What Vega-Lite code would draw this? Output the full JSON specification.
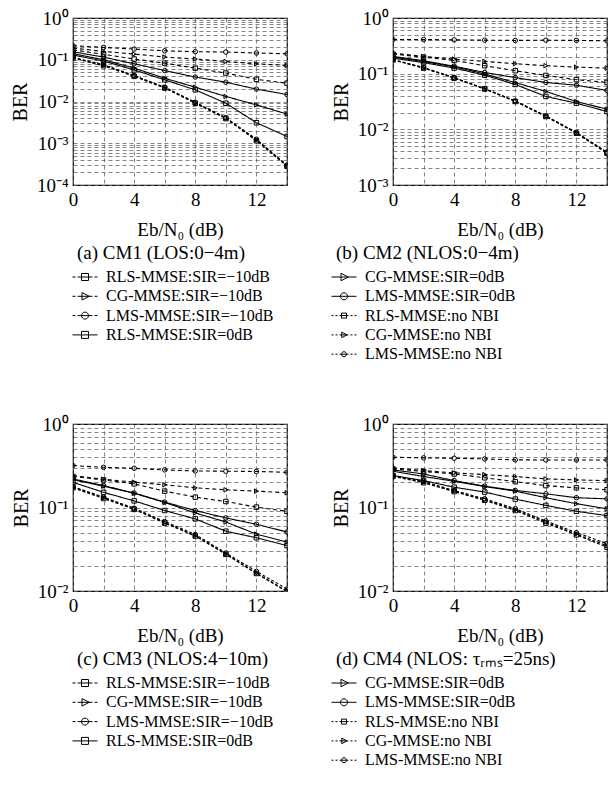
{
"$schema": "https://vega.github.io/schema/vega-lite/v6.json",
"padding": {"left": 9, "top": 8, "right": 0, "bottom": 0},
"config": {
 "font": "Liberation Serif",
 "view": {"stroke": "black", "strokeWidth": 1.2},
 "axis": {"labelFont": "Liberation Serif", "labelFontSize": 19, "labelColor": "black", "titleFont": "Liberation Serif", "titleFontSize": 19, "titleFontWeight": "normal", "titleColor": "black", "ticks": false, "domain": false, "grid": true, "gridColor": "#666", "gridDash": [4, 3], "gridWidth": 0.8, "labelFlush": false, "labelOverlap": false, "labelPadding": 5},
 "axisY": {"titleFontSize": 20, "titlePadding": 6},
 "axisX": {"titlePadding": 11},
 "legend": {"labelFont": "Liberation Serif", "labelFontSize": 16, "labelColor": "black", "titleFont": "Liberation Serif", "titleFontSize": 19, "titleFontWeight": "normal", "titleColor": "black", "labelLimit": 400, "titleLimit": 400, "symbolStrokeWidth": 1, "symbolStrokeColor": "black", "symbolFillColor": "transparent", "symbolSize": 100, "symbolOpacity": 1, "labelOffset": 13, "rowPadding": 3.3, "titlePadding": 6, "titleAnchor": "start", "orient": "none", "direction": "vertical"}
},
"datasets": {"d": [
{"p":"a","s":"RLS-MMSE:SIR=−10dB","x":0,"y":0.172},{"p":"a","s":"RLS-MMSE:SIR=−10dB","x":2,"y":0.135},{"p":"a","s":"RLS-MMSE:SIR=−10dB","x":4,"y":0.104},{"p":"a","s":"RLS-MMSE:SIR=−10dB","x":6,"y":0.083},{"p":"a","s":"RLS-MMSE:SIR=−10dB","x":8,"y":0.063},{"p":"a","s":"RLS-MMSE:SIR=−10dB","x":10,"y":0.048},{"p":"a","s":"RLS-MMSE:SIR=−10dB","x":12,"y":0.034},{"p":"a","s":"RLS-MMSE:SIR=−10dB","x":14,"y":0.0275},
{"p":"a","s":"CG-MMSE:SIR=−10dB","x":0,"y":0.19},{"p":"a","s":"CG-MMSE:SIR=−10dB","x":2,"y":0.158},{"p":"a","s":"CG-MMSE:SIR=−10dB","x":4,"y":0.137},{"p":"a","s":"CG-MMSE:SIR=−10dB","x":6,"y":0.116},{"p":"a","s":"CG-MMSE:SIR=−10dB","x":8,"y":0.104},{"p":"a","s":"CG-MMSE:SIR=−10dB","x":10,"y":0.091},{"p":"a","s":"CG-MMSE:SIR=−10dB","x":12,"y":0.08},{"p":"a","s":"CG-MMSE:SIR=−10dB","x":14,"y":0.073},
{"p":"a","s":"LMS-MMSE:SIR=−10dB","x":0,"y":0.217},{"p":"a","s":"LMS-MMSE:SIR=−10dB","x":2,"y":0.198},{"p":"a","s":"LMS-MMSE:SIR=−10dB","x":4,"y":0.18},{"p":"a","s":"LMS-MMSE:SIR=−10dB","x":6,"y":0.164},{"p":"a","s":"LMS-MMSE:SIR=−10dB","x":8,"y":0.156},{"p":"a","s":"LMS-MMSE:SIR=−10dB","x":10,"y":0.153},{"p":"a","s":"LMS-MMSE:SIR=−10dB","x":12,"y":0.145},{"p":"a","s":"LMS-MMSE:SIR=−10dB","x":14,"y":0.139},
{"p":"a","s":"RLS-MMSE:SIR=0dB","x":0,"y":0.13},{"p":"a","s":"RLS-MMSE:SIR=0dB","x":2,"y":0.093},{"p":"a","s":"RLS-MMSE:SIR=0dB","x":4,"y":0.057},{"p":"a","s":"RLS-MMSE:SIR=0dB","x":6,"y":0.033},{"p":"a","s":"RLS-MMSE:SIR=0dB","x":8,"y":0.019},{"p":"a","s":"RLS-MMSE:SIR=0dB","x":10,"y":0.0091},{"p":"a","s":"RLS-MMSE:SIR=0dB","x":12,"y":0.0031},{"p":"a","s":"RLS-MMSE:SIR=0dB","x":14,"y":0.00145},
{"p":"a","s":"CG-MMSE:SIR=0dB","x":0,"y":0.14},{"p":"a","s":"CG-MMSE:SIR=0dB","x":2,"y":0.1},{"p":"a","s":"CG-MMSE:SIR=0dB","x":4,"y":0.063},{"p":"a","s":"CG-MMSE:SIR=0dB","x":6,"y":0.036},{"p":"a","s":"CG-MMSE:SIR=0dB","x":8,"y":0.022},{"p":"a","s":"CG-MMSE:SIR=0dB","x":10,"y":0.0132},{"p":"a","s":"CG-MMSE:SIR=0dB","x":12,"y":0.0083},{"p":"a","s":"CG-MMSE:SIR=0dB","x":14,"y":0.005},
{"p":"a","s":"LMS-MMSE:SIR=0dB","x":0,"y":0.155},{"p":"a","s":"LMS-MMSE:SIR=0dB","x":2,"y":0.116},{"p":"a","s":"LMS-MMSE:SIR=0dB","x":4,"y":0.08},{"p":"a","s":"LMS-MMSE:SIR=0dB","x":6,"y":0.055},{"p":"a","s":"LMS-MMSE:SIR=0dB","x":8,"y":0.0385},{"p":"a","s":"LMS-MMSE:SIR=0dB","x":10,"y":0.029},{"p":"a","s":"LMS-MMSE:SIR=0dB","x":12,"y":0.0198},{"p":"a","s":"LMS-MMSE:SIR=0dB","x":14,"y":0.0147},
{"p":"a","s":"RLS-MMSE:no NBI","x":0,"y":0.11},{"p":"a","s":"RLS-MMSE:no NBI","x":2,"y":0.072},{"p":"a","s":"RLS-MMSE:no NBI","x":4,"y":0.04},{"p":"a","s":"RLS-MMSE:no NBI","x":6,"y":0.021},{"p":"a","s":"RLS-MMSE:no NBI","x":8,"y":0.0091},{"p":"a","s":"RLS-MMSE:no NBI","x":10,"y":0.0039},{"p":"a","s":"RLS-MMSE:no NBI","x":12,"y":0.00115},{"p":"a","s":"RLS-MMSE:no NBI","x":14,"y":0.00028},
{"p":"a","s":"CG-MMSE:no NBI","x":0,"y":0.112},{"p":"a","s":"CG-MMSE:no NBI","x":2,"y":0.074},{"p":"a","s":"CG-MMSE:no NBI","x":4,"y":0.041},{"p":"a","s":"CG-MMSE:no NBI","x":6,"y":0.0215},{"p":"a","s":"CG-MMSE:no NBI","x":8,"y":0.0093},{"p":"a","s":"CG-MMSE:no NBI","x":10,"y":0.004},{"p":"a","s":"CG-MMSE:no NBI","x":12,"y":0.0012},{"p":"a","s":"CG-MMSE:no NBI","x":14,"y":0.00029},
{"p":"a","s":"LMS-MMSE:no NBI","x":0,"y":0.114},{"p":"a","s":"LMS-MMSE:no NBI","x":2,"y":0.076},{"p":"a","s":"LMS-MMSE:no NBI","x":4,"y":0.042},{"p":"a","s":"LMS-MMSE:no NBI","x":6,"y":0.022},{"p":"a","s":"LMS-MMSE:no NBI","x":8,"y":0.0096},{"p":"a","s":"LMS-MMSE:no NBI","x":10,"y":0.0041},{"p":"a","s":"LMS-MMSE:no NBI","x":12,"y":0.00125},{"p":"a","s":"LMS-MMSE:no NBI","x":14,"y":0.0003},
{"p":"b","s":"RLS-MMSE:SIR=−10dB","x":0,"y":0.225},{"p":"b","s":"RLS-MMSE:SIR=−10dB","x":2,"y":0.198},{"p":"b","s":"RLS-MMSE:SIR=−10dB","x":4,"y":0.173},{"p":"b","s":"RLS-MMSE:SIR=−10dB","x":6,"y":0.139},{"p":"b","s":"RLS-MMSE:SIR=−10dB","x":8,"y":0.113},{"p":"b","s":"RLS-MMSE:SIR=−10dB","x":10,"y":0.093},{"p":"b","s":"RLS-MMSE:SIR=−10dB","x":12,"y":0.078},{"p":"b","s":"RLS-MMSE:SIR=−10dB","x":14,"y":0.0695},
{"p":"b","s":"CG-MMSE:SIR=−10dB","x":0,"y":0.234},{"p":"b","s":"CG-MMSE:SIR=−10dB","x":2,"y":0.204},{"p":"b","s":"CG-MMSE:SIR=−10dB","x":4,"y":0.183},{"p":"b","s":"CG-MMSE:SIR=−10dB","x":6,"y":0.166},{"p":"b","s":"CG-MMSE:SIR=−10dB","x":8,"y":0.151},{"p":"b","s":"CG-MMSE:SIR=−10dB","x":10,"y":0.139},{"p":"b","s":"CG-MMSE:SIR=−10dB","x":12,"y":0.131},{"p":"b","s":"CG-MMSE:SIR=−10dB","x":14,"y":0.126},
{"p":"b","s":"LMS-MMSE:SIR=−10dB","x":0,"y":0.41},{"p":"b","s":"LMS-MMSE:SIR=−10dB","x":2,"y":0.41},{"p":"b","s":"LMS-MMSE:SIR=−10dB","x":4,"y":0.405},{"p":"b","s":"LMS-MMSE:SIR=−10dB","x":6,"y":0.4},{"p":"b","s":"LMS-MMSE:SIR=−10dB","x":8,"y":0.395},{"p":"b","s":"LMS-MMSE:SIR=−10dB","x":10,"y":0.4},{"p":"b","s":"LMS-MMSE:SIR=−10dB","x":12,"y":0.395},{"p":"b","s":"LMS-MMSE:SIR=−10dB","x":14,"y":0.39},
{"p":"b","s":"RLS-MMSE:SIR=0dB","x":0,"y":0.19},{"p":"b","s":"RLS-MMSE:SIR=0dB","x":2,"y":0.158},{"p":"b","s":"RLS-MMSE:SIR=0dB","x":4,"y":0.126},{"p":"b","s":"RLS-MMSE:SIR=0dB","x":6,"y":0.094},{"p":"b","s":"RLS-MMSE:SIR=0dB","x":8,"y":0.064},{"p":"b","s":"RLS-MMSE:SIR=0dB","x":10,"y":0.039},{"p":"b","s":"RLS-MMSE:SIR=0dB","x":12,"y":0.0295},{"p":"b","s":"RLS-MMSE:SIR=0dB","x":14,"y":0.0209},
{"p":"b","s":"CG-MMSE:SIR=0dB","x":0,"y":0.198},{"p":"b","s":"CG-MMSE:SIR=0dB","x":2,"y":0.165},{"p":"b","s":"CG-MMSE:SIR=0dB","x":4,"y":0.133},{"p":"b","s":"CG-MMSE:SIR=0dB","x":6,"y":0.099},{"p":"b","s":"CG-MMSE:SIR=0dB","x":8,"y":0.069},{"p":"b","s":"CG-MMSE:SIR=0dB","x":10,"y":0.048},{"p":"b","s":"CG-MMSE:SIR=0dB","x":12,"y":0.0316},{"p":"b","s":"CG-MMSE:SIR=0dB","x":14,"y":0.023},
{"p":"b","s":"LMS-MMSE:SIR=0dB","x":0,"y":0.204},{"p":"b","s":"LMS-MMSE:SIR=0dB","x":2,"y":0.171},{"p":"b","s":"LMS-MMSE:SIR=0dB","x":4,"y":0.136},{"p":"b","s":"LMS-MMSE:SIR=0dB","x":6,"y":0.105},{"p":"b","s":"LMS-MMSE:SIR=0dB","x":8,"y":0.085},{"p":"b","s":"LMS-MMSE:SIR=0dB","x":10,"y":0.0695},{"p":"b","s":"LMS-MMSE:SIR=0dB","x":12,"y":0.062},{"p":"b","s":"LMS-MMSE:SIR=0dB","x":14,"y":0.05},
{"p":"b","s":"RLS-MMSE:no NBI","x":0,"y":0.176},{"p":"b","s":"RLS-MMSE:no NBI","x":2,"y":0.126},{"p":"b","s":"RLS-MMSE:no NBI","x":4,"y":0.083},{"p":"b","s":"RLS-MMSE:no NBI","x":6,"y":0.053},{"p":"b","s":"RLS-MMSE:no NBI","x":8,"y":0.0316},{"p":"b","s":"RLS-MMSE:no NBI","x":10,"y":0.017},{"p":"b","s":"RLS-MMSE:no NBI","x":12,"y":0.0085},{"p":"b","s":"RLS-MMSE:no NBI","x":14,"y":0.0037},
{"p":"b","s":"CG-MMSE:no NBI","x":0,"y":0.178},{"p":"b","s":"CG-MMSE:no NBI","x":2,"y":0.127},{"p":"b","s":"CG-MMSE:no NBI","x":4,"y":0.084},{"p":"b","s":"CG-MMSE:no NBI","x":6,"y":0.0535},{"p":"b","s":"CG-MMSE:no NBI","x":8,"y":0.032},{"p":"b","s":"CG-MMSE:no NBI","x":10,"y":0.0172},{"p":"b","s":"CG-MMSE:no NBI","x":12,"y":0.0087},{"p":"b","s":"CG-MMSE:no NBI","x":14,"y":0.0038},
{"p":"b","s":"LMS-MMSE:no NBI","x":0,"y":0.18},{"p":"b","s":"LMS-MMSE:no NBI","x":2,"y":0.129},{"p":"b","s":"LMS-MMSE:no NBI","x":4,"y":0.085},{"p":"b","s":"LMS-MMSE:no NBI","x":6,"y":0.054},{"p":"b","s":"LMS-MMSE:no NBI","x":8,"y":0.0324},{"p":"b","s":"LMS-MMSE:no NBI","x":10,"y":0.0175},{"p":"b","s":"LMS-MMSE:no NBI","x":12,"y":0.0088},{"p":"b","s":"LMS-MMSE:no NBI","x":14,"y":0.0039},
{"p":"c","s":"RLS-MMSE:SIR=−10dB","x":0,"y":0.235},{"p":"c","s":"RLS-MMSE:SIR=−10dB","x":2,"y":0.214},{"p":"c","s":"RLS-MMSE:SIR=−10dB","x":4,"y":0.192},{"p":"c","s":"RLS-MMSE:SIR=−10dB","x":6,"y":0.157},{"p":"c","s":"RLS-MMSE:SIR=−10dB","x":8,"y":0.133},{"p":"c","s":"RLS-MMSE:SIR=−10dB","x":10,"y":0.118},{"p":"c","s":"RLS-MMSE:SIR=−10dB","x":12,"y":0.101},{"p":"c","s":"RLS-MMSE:SIR=−10dB","x":14,"y":0.09},
{"p":"c","s":"CG-MMSE:SIR=−10dB","x":0,"y":0.241},{"p":"c","s":"CG-MMSE:SIR=−10dB","x":2,"y":0.218},{"p":"c","s":"CG-MMSE:SIR=−10dB","x":4,"y":0.201},{"p":"c","s":"CG-MMSE:SIR=−10dB","x":6,"y":0.187},{"p":"c","s":"CG-MMSE:SIR=−10dB","x":8,"y":0.172},{"p":"c","s":"CG-MMSE:SIR=−10dB","x":10,"y":0.163},{"p":"c","s":"CG-MMSE:SIR=−10dB","x":12,"y":0.157},{"p":"c","s":"CG-MMSE:SIR=−10dB","x":14,"y":0.15},
{"p":"c","s":"LMS-MMSE:SIR=−10dB","x":0,"y":0.318},{"p":"c","s":"LMS-MMSE:SIR=−10dB","x":2,"y":0.303},{"p":"c","s":"LMS-MMSE:SIR=−10dB","x":4,"y":0.295},{"p":"c","s":"LMS-MMSE:SIR=−10dB","x":6,"y":0.282},{"p":"c","s":"LMS-MMSE:SIR=−10dB","x":8,"y":0.274},{"p":"c","s":"LMS-MMSE:SIR=−10dB","x":10,"y":0.272},{"p":"c","s":"LMS-MMSE:SIR=−10dB","x":12,"y":0.27},{"p":"c","s":"LMS-MMSE:SIR=−10dB","x":14,"y":0.264},
{"p":"c","s":"RLS-MMSE:SIR=0dB","x":0,"y":0.2},{"p":"c","s":"RLS-MMSE:SIR=0dB","x":2,"y":0.152},{"p":"c","s":"RLS-MMSE:SIR=0dB","x":4,"y":0.12},{"p":"c","s":"RLS-MMSE:SIR=0dB","x":6,"y":0.092},{"p":"c","s":"RLS-MMSE:SIR=0dB","x":8,"y":0.073},{"p":"c","s":"RLS-MMSE:SIR=0dB","x":10,"y":0.052},{"p":"c","s":"RLS-MMSE:SIR=0dB","x":12,"y":0.0434},{"p":"c","s":"RLS-MMSE:SIR=0dB","x":14,"y":0.035},
{"p":"c","s":"CG-MMSE:SIR=0dB","x":0,"y":0.215},{"p":"c","s":"CG-MMSE:SIR=0dB","x":2,"y":0.18},{"p":"c","s":"CG-MMSE:SIR=0dB","x":4,"y":0.148},{"p":"c","s":"CG-MMSE:SIR=0dB","x":6,"y":0.115},{"p":"c","s":"CG-MMSE:SIR=0dB","x":8,"y":0.086},{"p":"c","s":"CG-MMSE:SIR=0dB","x":10,"y":0.067},{"p":"c","s":"CG-MMSE:SIR=0dB","x":12,"y":0.048},{"p":"c","s":"CG-MMSE:SIR=0dB","x":14,"y":0.0385},
{"p":"c","s":"LMS-MMSE:SIR=0dB","x":0,"y":0.22},{"p":"c","s":"LMS-MMSE:SIR=0dB","x":2,"y":0.183},{"p":"c","s":"LMS-MMSE:SIR=0dB","x":4,"y":0.149},{"p":"c","s":"LMS-MMSE:SIR=0dB","x":6,"y":0.116},{"p":"c","s":"LMS-MMSE:SIR=0dB","x":8,"y":0.092},{"p":"c","s":"LMS-MMSE:SIR=0dB","x":10,"y":0.075},{"p":"c","s":"LMS-MMSE:SIR=0dB","x":12,"y":0.063},{"p":"c","s":"LMS-MMSE:SIR=0dB","x":14,"y":0.0509},
{"p":"c","s":"RLS-MMSE:no NBI","x":0,"y":0.172},{"p":"c","s":"RLS-MMSE:no NBI","x":2,"y":0.128},{"p":"c","s":"RLS-MMSE:no NBI","x":4,"y":0.095},{"p":"c","s":"RLS-MMSE:no NBI","x":6,"y":0.065},{"p":"c","s":"RLS-MMSE:no NBI","x":8,"y":0.0455},{"p":"c","s":"RLS-MMSE:no NBI","x":10,"y":0.0275},{"p":"c","s":"RLS-MMSE:no NBI","x":12,"y":0.0162},{"p":"c","s":"RLS-MMSE:no NBI","x":14,"y":0.0098},
{"p":"c","s":"CG-MMSE:no NBI","x":0,"y":0.175},{"p":"c","s":"CG-MMSE:no NBI","x":2,"y":0.131},{"p":"c","s":"CG-MMSE:no NBI","x":4,"y":0.097},{"p":"c","s":"CG-MMSE:no NBI","x":6,"y":0.066},{"p":"c","s":"CG-MMSE:no NBI","x":8,"y":0.046},{"p":"c","s":"CG-MMSE:no NBI","x":10,"y":0.0277},{"p":"c","s":"CG-MMSE:no NBI","x":12,"y":0.0163},{"p":"c","s":"CG-MMSE:no NBI","x":14,"y":0.01},
{"p":"c","s":"LMS-MMSE:no NBI","x":0,"y":0.178},{"p":"c","s":"LMS-MMSE:no NBI","x":2,"y":0.133},{"p":"c","s":"LMS-MMSE:no NBI","x":4,"y":0.098},{"p":"c","s":"LMS-MMSE:no NBI","x":6,"y":0.068},{"p":"c","s":"LMS-MMSE:no NBI","x":8,"y":0.0475},{"p":"c","s":"LMS-MMSE:no NBI","x":10,"y":0.0285},{"p":"c","s":"LMS-MMSE:no NBI","x":12,"y":0.0172},{"p":"c","s":"LMS-MMSE:no NBI","x":14,"y":0.0106},
{"p":"d","s":"RLS-MMSE:SIR=−10dB","x":0,"y":0.29},{"p":"d","s":"RLS-MMSE:SIR=−10dB","x":2,"y":0.27},{"p":"d","s":"RLS-MMSE:SIR=−10dB","x":4,"y":0.252},{"p":"d","s":"RLS-MMSE:SIR=−10dB","x":6,"y":0.227},{"p":"d","s":"RLS-MMSE:SIR=−10dB","x":8,"y":0.204},{"p":"d","s":"RLS-MMSE:SIR=−10dB","x":10,"y":0.183},{"p":"d","s":"RLS-MMSE:SIR=−10dB","x":12,"y":0.172},{"p":"d","s":"RLS-MMSE:SIR=−10dB","x":14,"y":0.163},
{"p":"d","s":"CG-MMSE:SIR=−10dB","x":0,"y":0.298},{"p":"d","s":"CG-MMSE:SIR=−10dB","x":2,"y":0.277},{"p":"d","s":"CG-MMSE:SIR=−10dB","x":4,"y":0.26},{"p":"d","s":"CG-MMSE:SIR=−10dB","x":6,"y":0.248},{"p":"d","s":"CG-MMSE:SIR=−10dB","x":8,"y":0.235},{"p":"d","s":"CG-MMSE:SIR=−10dB","x":10,"y":0.22},{"p":"d","s":"CG-MMSE:SIR=−10dB","x":12,"y":0.214},{"p":"d","s":"CG-MMSE:SIR=−10dB","x":14,"y":0.21},
{"p":"d","s":"LMS-MMSE:SIR=−10dB","x":0,"y":0.4},{"p":"d","s":"LMS-MMSE:SIR=−10dB","x":2,"y":0.393},{"p":"d","s":"LMS-MMSE:SIR=−10dB","x":4,"y":0.389},{"p":"d","s":"LMS-MMSE:SIR=−10dB","x":6,"y":0.382},{"p":"d","s":"LMS-MMSE:SIR=−10dB","x":8,"y":0.372},{"p":"d","s":"LMS-MMSE:SIR=−10dB","x":10,"y":0.371},{"p":"d","s":"LMS-MMSE:SIR=−10dB","x":12,"y":0.371},{"p":"d","s":"LMS-MMSE:SIR=−10dB","x":14,"y":0.371},
{"p":"d","s":"RLS-MMSE:SIR=0dB","x":0,"y":0.241},{"p":"d","s":"RLS-MMSE:SIR=0dB","x":2,"y":0.21},{"p":"d","s":"RLS-MMSE:SIR=0dB","x":4,"y":0.175},{"p":"d","s":"RLS-MMSE:SIR=0dB","x":6,"y":0.153},{"p":"d","s":"RLS-MMSE:SIR=0dB","x":8,"y":0.126},{"p":"d","s":"RLS-MMSE:SIR=0dB","x":10,"y":0.106},{"p":"d","s":"RLS-MMSE:SIR=0dB","x":12,"y":0.09},{"p":"d","s":"RLS-MMSE:SIR=0dB","x":14,"y":0.08},
{"p":"d","s":"CG-MMSE:SIR=0dB","x":0,"y":0.272},{"p":"d","s":"CG-MMSE:SIR=0dB","x":2,"y":0.235},{"p":"d","s":"CG-MMSE:SIR=0dB","x":4,"y":0.206},{"p":"d","s":"CG-MMSE:SIR=0dB","x":6,"y":0.178},{"p":"d","s":"CG-MMSE:SIR=0dB","x":8,"y":0.157},{"p":"d","s":"CG-MMSE:SIR=0dB","x":10,"y":0.131},{"p":"d","s":"CG-MMSE:SIR=0dB","x":12,"y":0.111},{"p":"d","s":"CG-MMSE:SIR=0dB","x":14,"y":0.0965},
{"p":"d","s":"LMS-MMSE:SIR=0dB","x":0,"y":0.282},{"p":"d","s":"LMS-MMSE:SIR=0dB","x":2,"y":0.252},{"p":"d","s":"LMS-MMSE:SIR=0dB","x":4,"y":0.21},{"p":"d","s":"LMS-MMSE:SIR=0dB","x":6,"y":0.18},{"p":"d","s":"LMS-MMSE:SIR=0dB","x":8,"y":0.16},{"p":"d","s":"LMS-MMSE:SIR=0dB","x":10,"y":0.146},{"p":"d","s":"LMS-MMSE:SIR=0dB","x":12,"y":0.131},{"p":"d","s":"LMS-MMSE:SIR=0dB","x":14,"y":0.127},
{"p":"d","s":"RLS-MMSE:no NBI","x":0,"y":0.236},{"p":"d","s":"RLS-MMSE:no NBI","x":2,"y":0.198},{"p":"d","s":"RLS-MMSE:no NBI","x":4,"y":0.155},{"p":"d","s":"RLS-MMSE:no NBI","x":6,"y":0.122},{"p":"d","s":"RLS-MMSE:no NBI","x":8,"y":0.092},{"p":"d","s":"RLS-MMSE:no NBI","x":10,"y":0.065},{"p":"d","s":"RLS-MMSE:no NBI","x":12,"y":0.047},{"p":"d","s":"RLS-MMSE:no NBI","x":14,"y":0.0335},
{"p":"d","s":"CG-MMSE:no NBI","x":0,"y":0.239},{"p":"d","s":"CG-MMSE:no NBI","x":2,"y":0.2},{"p":"d","s":"CG-MMSE:no NBI","x":4,"y":0.157},{"p":"d","s":"CG-MMSE:no NBI","x":6,"y":0.124},{"p":"d","s":"CG-MMSE:no NBI","x":8,"y":0.094},{"p":"d","s":"CG-MMSE:no NBI","x":10,"y":0.067},{"p":"d","s":"CG-MMSE:no NBI","x":12,"y":0.048},{"p":"d","s":"CG-MMSE:no NBI","x":14,"y":0.035},
{"p":"d","s":"LMS-MMSE:no NBI","x":0,"y":0.244},{"p":"d","s":"LMS-MMSE:no NBI","x":2,"y":0.205},{"p":"d","s":"LMS-MMSE:no NBI","x":4,"y":0.16},{"p":"d","s":"LMS-MMSE:no NBI","x":6,"y":0.127},{"p":"d","s":"LMS-MMSE:no NBI","x":8,"y":0.097},{"p":"d","s":"LMS-MMSE:no NBI","x":10,"y":0.069},{"p":"d","s":"LMS-MMSE:no NBI","x":12,"y":0.05},{"p":"d","s":"LMS-MMSE:no NBI","x":14,"y":0.037}
]},
"data": {"name": "d"},
"columns": 2,
"spacing": {"row": 50, "column": 42},
"resolve": {"legend": {"shape": "independent"}, "scale": {"shape": "independent"}},
"concat": [
{
 "width": 214, "height": 167,
 "transform": [{"filter": "datum.p === 'a'"}],
 "resolve": {"scale": {"shape": "independent"}},
 "encoding": {
  "x": {"field": "x", "type": "quantitative", "scale": {"domain": [0, 14], "nice": false}, "axis": {"values": [0,2,4,6,8,10,12,14], "labelExpr": "datum.value % 4 === 0 ? datum.label : ''", "title": "Eb/N₀ (dB)"}},
  "y": {"field": "y", "type": "quantitative", "scale": {"type": "log", "domain": [0.0001, 1], "nice": false}, "axis": {"title": "BER", "values": [0.0001,0.0002,0.0003,0.0004,0.0005,0.0006,0.0007,0.0008,0.0009,0.001,0.002,0.003,0.004,0.005,0.006,0.007,0.008,0.009,0.01,0.02,0.03,0.04,0.05,0.06,0.07,0.08,0.09,0.1,0.2,0.3,0.4,0.5,0.6,0.7,0.8,0.9,1], "labelExpr": "datum.value === 1 ? '10⁰' : datum.value === 0.1 ? '10⁻¹' : datum.value === 0.01 ? '10⁻²' : datum.value === 0.001 ? '10⁻³' : datum.value === 0.0001 ? '10⁻⁴' : ''"}}
 },
 "layer": [
  {"mark": {"type": "line", "color": "black", "strokeWidth": 1.1, "clip": true}, "encoding": {"strokeDash": {"field": "s", "type": "nominal", "scale": {"domain": ["RLS-MMSE:SIR=−10dB","CG-MMSE:SIR=−10dB","LMS-MMSE:SIR=−10dB","RLS-MMSE:SIR=0dB","CG-MMSE:SIR=0dB","LMS-MMSE:SIR=0dB","RLS-MMSE:no NBI","CG-MMSE:no NBI","LMS-MMSE:no NBI"], "range": [[4,3],[4,3],[4,3],[1,0],[1,0],[1,0],[3,2],[3,2],[3,2]]}, "legend": null}}},
  {"mark": {"type": "point", "filled": false, "color": "black", "size": 20, "strokeWidth": 1, "opacity": 1, "clip": true}, "encoding": {"shape": {"field": "s", "type": "nominal", "scale": {"domain": ["RLS-MMSE:SIR=−10dB","CG-MMSE:SIR=−10dB","LMS-MMSE:SIR=−10dB","RLS-MMSE:SIR=0dB","CG-MMSE:SIR=0dB","LMS-MMSE:SIR=0dB","RLS-MMSE:no NBI","CG-MMSE:no NBI","LMS-MMSE:no NBI"], "range": ["square","triangle-right","circle","square","triangle-right","circle","square","triangle-right","circle"]}, "legend": null}}},
  {"transform": [{"filter": "false"}], "mark": {"type": "point", "filled": false, "color": "black", "strokeWidth": 1}, "encoding": {"shape": {"field": "s", "type": "nominal", "scale": {"domain": ["RLS-MMSE:SIR=−10dB","CG-MMSE:SIR=−10dB","LMS-MMSE:SIR=−10dB","RLS-MMSE:SIR=0dB","CG-MMSE:SIR=0dB","LMS-MMSE:SIR=0dB","RLS-MMSE:no NBI","CG-MMSE:no NBI","LMS-MMSE:no NBI"], "range": ["M-2.5,0H-1.9M-1.5,0H1.5M1.9,0H2.5M-0.7,-0.7H0.7V0.7H-0.7Z","M-2.5,0H-1.9M-1.5,0H1.5M1.9,0H2.5M-0.6,-0.75L0.85,0L-0.6,0.75Z","M-2.5,0H-1.9M-1.5,0H1.5M1.9,0H2.5M-0.7,0A0.7,0.7 0 1,0 0.7,0A0.7,0.7 0 1,0 -0.7,0Z","M-2.5,0H2.5M-0.7,-0.7H0.7V0.7H-0.7Z","M-2.5,0H2.5M-0.6,-0.75L0.85,0L-0.6,0.75Z","M-2.5,0H2.5M-0.7,0A0.7,0.7 0 1,0 0.7,0A0.7,0.7 0 1,0 -0.7,0Z","M-2.5,0H-2.1M-1.7,0H-1.3M-0.9,0H0.9M1.3,0H1.7M2.1,0H2.5M-0.5,-0.5H0.5V0.5H-0.5Z","M-2.5,0H-2.1M-1.7,0H-1.3M-0.9,0H0.9M1.3,0H1.7M2.1,0H2.5M-0.45,-0.55L0.6,0L-0.45,0.55Z","M-2.5,0H-2.1M-1.7,0H-1.3M-0.9,0H0.9M1.3,0H1.7M2.1,0H2.5M-0.5,0A0.5,0.5 0 1,0 0.5,0A0.5,0.5 0 1,0 -0.5,0Z"]}, "legend": {"values": ["RLS-MMSE:SIR=−10dB","CG-MMSE:SIR=−10dB","LMS-MMSE:SIR=−10dB","RLS-MMSE:SIR=0dB"], "title": "(a) CM1 (LOS:0−4m)", "legendX": 4, "legendY": 226}}}}
 ]
},
{
 "width": 214, "height": 167,
 "transform": [{"filter": "datum.p === 'b'"}],
 "resolve": {"scale": {"shape": "independent"}},
 "encoding": {
  "x": {"field": "x", "type": "quantitative", "scale": {"domain": [0, 14], "nice": false}, "axis": {"values": [0,2,4,6,8,10,12,14], "labelExpr": "datum.value % 4 === 0 ? datum.label : ''", "title": "Eb/N₀ (dB)"}},
  "y": {"field": "y", "type": "quantitative", "scale": {"type": "log", "domain": [0.001, 1], "nice": false}, "axis": {"title": "BER", "values": [0.001,0.002,0.003,0.004,0.005,0.006,0.007,0.008,0.009,0.01,0.02,0.03,0.04,0.05,0.06,0.07,0.08,0.09,0.1,0.2,0.3,0.4,0.5,0.6,0.7,0.8,0.9,1], "labelExpr": "datum.value === 1 ? '10⁰' : datum.value === 0.1 ? '10⁻¹' : datum.value === 0.01 ? '10⁻²' : datum.value === 0.001 ? '10⁻³' : ''"}}
 },
 "layer": [
  {"mark": {"type": "line", "color": "black", "strokeWidth": 1.1, "clip": true}, "encoding": {"strokeDash": {"field": "s", "type": "nominal", "scale": {"domain": ["RLS-MMSE:SIR=−10dB","CG-MMSE:SIR=−10dB","LMS-MMSE:SIR=−10dB","RLS-MMSE:SIR=0dB","CG-MMSE:SIR=0dB","LMS-MMSE:SIR=0dB","RLS-MMSE:no NBI","CG-MMSE:no NBI","LMS-MMSE:no NBI"], "range": [[4,3],[4,3],[4,3],[1,0],[1,0],[1,0],[3,2],[3,2],[3,2]]}, "legend": null}}},
  {"mark": {"type": "point", "filled": false, "color": "black", "size": 20, "strokeWidth": 1, "opacity": 1, "clip": true}, "encoding": {"shape": {"field": "s", "type": "nominal", "scale": {"domain": ["RLS-MMSE:SIR=−10dB","CG-MMSE:SIR=−10dB","LMS-MMSE:SIR=−10dB","RLS-MMSE:SIR=0dB","CG-MMSE:SIR=0dB","LMS-MMSE:SIR=0dB","RLS-MMSE:no NBI","CG-MMSE:no NBI","LMS-MMSE:no NBI"], "range": ["square","triangle-right","circle","square","triangle-right","circle","square","triangle-right","circle"]}, "legend": null}}},
  {"transform": [{"filter": "false"}], "mark": {"type": "point", "filled": false, "color": "black", "strokeWidth": 1}, "encoding": {"shape": {"field": "s", "type": "nominal", "scale": {"domain": ["RLS-MMSE:SIR=−10dB","CG-MMSE:SIR=−10dB","LMS-MMSE:SIR=−10dB","RLS-MMSE:SIR=0dB","CG-MMSE:SIR=0dB","LMS-MMSE:SIR=0dB","RLS-MMSE:no NBI","CG-MMSE:no NBI","LMS-MMSE:no NBI"], "range": ["M-2.5,0H-1.9M-1.5,0H1.5M1.9,0H2.5M-0.7,-0.7H0.7V0.7H-0.7Z","M-2.5,0H-1.9M-1.5,0H1.5M1.9,0H2.5M-0.6,-0.75L0.85,0L-0.6,0.75Z","M-2.5,0H-1.9M-1.5,0H1.5M1.9,0H2.5M-0.7,0A0.7,0.7 0 1,0 0.7,0A0.7,0.7 0 1,0 -0.7,0Z","M-2.5,0H2.5M-0.7,-0.7H0.7V0.7H-0.7Z","M-2.5,0H2.5M-0.6,-0.75L0.85,0L-0.6,0.75Z","M-2.5,0H2.5M-0.7,0A0.7,0.7 0 1,0 0.7,0A0.7,0.7 0 1,0 -0.7,0Z","M-2.5,0H-2.1M-1.7,0H-1.3M-0.9,0H0.9M1.3,0H1.7M2.1,0H2.5M-0.5,-0.5H0.5V0.5H-0.5Z","M-2.5,0H-2.1M-1.7,0H-1.3M-0.9,0H0.9M1.3,0H1.7M2.1,0H2.5M-0.45,-0.55L0.6,0L-0.45,0.55Z","M-2.5,0H-2.1M-1.7,0H-1.3M-0.9,0H0.9M1.3,0H1.7M2.1,0H2.5M-0.5,0A0.5,0.5 0 1,0 0.5,0A0.5,0.5 0 1,0 -0.5,0Z"]}, "legend": {"values": ["CG-MMSE:SIR=0dB","LMS-MMSE:SIR=0dB","RLS-MMSE:no NBI","CG-MMSE:no NBI","LMS-MMSE:no NBI"], "title": "(b) CM2 (NLOS:0−4m)", "legendX": -57, "legendY": 226}}}}
 ]
},
{
 "width": 214, "height": 167,
 "transform": [{"filter": "datum.p === 'c'"}],
 "resolve": {"scale": {"shape": "independent"}},
 "encoding": {
  "x": {"field": "x", "type": "quantitative", "scale": {"domain": [0, 14], "nice": false}, "axis": {"values": [0,2,4,6,8,10,12,14], "labelExpr": "datum.value % 4 === 0 ? datum.label : ''", "title": "Eb/N₀ (dB)"}},
  "y": {"field": "y", "type": "quantitative", "scale": {"type": "log", "domain": [0.01, 1], "nice": false}, "axis": {"title": "BER", "values": [0.01,0.02,0.03,0.04,0.05,0.06,0.07,0.08,0.09,0.1,0.2,0.3,0.4,0.5,0.6,0.7,0.8,0.9,1], "labelExpr": "datum.value === 1 ? '10⁰' : datum.value === 0.1 ? '10⁻¹' : datum.value === 0.01 ? '10⁻²' : ''"}}
 },
 "layer": [
  {"mark": {"type": "line", "color": "black", "strokeWidth": 1.1, "clip": true}, "encoding": {"strokeDash": {"field": "s", "type": "nominal", "scale": {"domain": ["RLS-MMSE:SIR=−10dB","CG-MMSE:SIR=−10dB","LMS-MMSE:SIR=−10dB","RLS-MMSE:SIR=0dB","CG-MMSE:SIR=0dB","LMS-MMSE:SIR=0dB","RLS-MMSE:no NBI","CG-MMSE:no NBI","LMS-MMSE:no NBI"], "range": [[4,3],[4,3],[4,3],[1,0],[1,0],[1,0],[3,2],[3,2],[3,2]]}, "legend": null}}},
  {"mark": {"type": "point", "filled": false, "color": "black", "size": 20, "strokeWidth": 1, "opacity": 1, "clip": true}, "encoding": {"shape": {"field": "s", "type": "nominal", "scale": {"domain": ["RLS-MMSE:SIR=−10dB","CG-MMSE:SIR=−10dB","LMS-MMSE:SIR=−10dB","RLS-MMSE:SIR=0dB","CG-MMSE:SIR=0dB","LMS-MMSE:SIR=0dB","RLS-MMSE:no NBI","CG-MMSE:no NBI","LMS-MMSE:no NBI"], "range": ["square","triangle-right","circle","square","triangle-right","circle","square","triangle-right","circle"]}, "legend": null}}},
  {"transform": [{"filter": "false"}], "mark": {"type": "point", "filled": false, "color": "black", "strokeWidth": 1}, "encoding": {"shape": {"field": "s", "type": "nominal", "scale": {"domain": ["RLS-MMSE:SIR=−10dB","CG-MMSE:SIR=−10dB","LMS-MMSE:SIR=−10dB","RLS-MMSE:SIR=0dB","CG-MMSE:SIR=0dB","LMS-MMSE:SIR=0dB","RLS-MMSE:no NBI","CG-MMSE:no NBI","LMS-MMSE:no NBI"], "range": ["M-2.5,0H-1.9M-1.5,0H1.5M1.9,0H2.5M-0.7,-0.7H0.7V0.7H-0.7Z","M-2.5,0H-1.9M-1.5,0H1.5M1.9,0H2.5M-0.6,-0.75L0.85,0L-0.6,0.75Z","M-2.5,0H-1.9M-1.5,0H1.5M1.9,0H2.5M-0.7,0A0.7,0.7 0 1,0 0.7,0A0.7,0.7 0 1,0 -0.7,0Z","M-2.5,0H2.5M-0.7,-0.7H0.7V0.7H-0.7Z","M-2.5,0H2.5M-0.6,-0.75L0.85,0L-0.6,0.75Z","M-2.5,0H2.5M-0.7,0A0.7,0.7 0 1,0 0.7,0A0.7,0.7 0 1,0 -0.7,0Z","M-2.5,0H-2.1M-1.7,0H-1.3M-0.9,0H0.9M1.3,0H1.7M2.1,0H2.5M-0.5,-0.5H0.5V0.5H-0.5Z","M-2.5,0H-2.1M-1.7,0H-1.3M-0.9,0H0.9M1.3,0H1.7M2.1,0H2.5M-0.45,-0.55L0.6,0L-0.45,0.55Z","M-2.5,0H-2.1M-1.7,0H-1.3M-0.9,0H0.9M1.3,0H1.7M2.1,0H2.5M-0.5,0A0.5,0.5 0 1,0 0.5,0A0.5,0.5 0 1,0 -0.5,0Z"]}, "legend": {"values": ["RLS-MMSE:SIR=−10dB","CG-MMSE:SIR=−10dB","LMS-MMSE:SIR=−10dB","RLS-MMSE:SIR=0dB"], "title": "(c) CM3 (NLOS:4−10m)", "legendX": 4, "legendY": 226}}}}
 ]
},
{
 "width": 214, "height": 167,
 "transform": [{"filter": "datum.p === 'd'"}],
 "resolve": {"scale": {"shape": "independent"}},
 "encoding": {
  "x": {"field": "x", "type": "quantitative", "scale": {"domain": [0, 14], "nice": false}, "axis": {"values": [0,2,4,6,8,10,12,14], "labelExpr": "datum.value % 4 === 0 ? datum.label : ''", "title": "Eb/N₀ (dB)"}},
  "y": {"field": "y", "type": "quantitative", "scale": {"type": "log", "domain": [0.01, 1], "nice": false}, "axis": {"title": "BER", "values": [0.01,0.02,0.03,0.04,0.05,0.06,0.07,0.08,0.09,0.1,0.2,0.3,0.4,0.5,0.6,0.7,0.8,0.9,1], "labelExpr": "datum.value === 1 ? '10⁰' : datum.value === 0.1 ? '10⁻¹' : datum.value === 0.01 ? '10⁻²' : ''"}}
 },
 "layer": [
  {"mark": {"type": "line", "color": "black", "strokeWidth": 1.1, "clip": true}, "encoding": {"strokeDash": {"field": "s", "type": "nominal", "scale": {"domain": ["RLS-MMSE:SIR=−10dB","CG-MMSE:SIR=−10dB","LMS-MMSE:SIR=−10dB","RLS-MMSE:SIR=0dB","CG-MMSE:SIR=0dB","LMS-MMSE:SIR=0dB","RLS-MMSE:no NBI","CG-MMSE:no NBI","LMS-MMSE:no NBI"], "range": [[4,3],[4,3],[4,3],[1,0],[1,0],[1,0],[3,2],[3,2],[3,2]]}, "legend": null}}},
  {"mark": {"type": "point", "filled": false, "color": "black", "size": 20, "strokeWidth": 1, "opacity": 1, "clip": true}, "encoding": {"shape": {"field": "s", "type": "nominal", "scale": {"domain": ["RLS-MMSE:SIR=−10dB","CG-MMSE:SIR=−10dB","LMS-MMSE:SIR=−10dB","RLS-MMSE:SIR=0dB","CG-MMSE:SIR=0dB","LMS-MMSE:SIR=0dB","RLS-MMSE:no NBI","CG-MMSE:no NBI","LMS-MMSE:no NBI"], "range": ["square","triangle-right","circle","square","triangle-right","circle","square","triangle-right","circle"]}, "legend": null}}},
  {"transform": [{"filter": "false"}], "mark": {"type": "point", "filled": false, "color": "black", "strokeWidth": 1}, "encoding": {"shape": {"field": "s", "type": "nominal", "scale": {"domain": ["RLS-MMSE:SIR=−10dB","CG-MMSE:SIR=−10dB","LMS-MMSE:SIR=−10dB","RLS-MMSE:SIR=0dB","CG-MMSE:SIR=0dB","LMS-MMSE:SIR=0dB","RLS-MMSE:no NBI","CG-MMSE:no NBI","LMS-MMSE:no NBI"], "range": ["M-2.5,0H-1.9M-1.5,0H1.5M1.9,0H2.5M-0.7,-0.7H0.7V0.7H-0.7Z","M-2.5,0H-1.9M-1.5,0H1.5M1.9,0H2.5M-0.6,-0.75L0.85,0L-0.6,0.75Z","M-2.5,0H-1.9M-1.5,0H1.5M1.9,0H2.5M-0.7,0A0.7,0.7 0 1,0 0.7,0A0.7,0.7 0 1,0 -0.7,0Z","M-2.5,0H2.5M-0.7,-0.7H0.7V0.7H-0.7Z","M-2.5,0H2.5M-0.6,-0.75L0.85,0L-0.6,0.75Z","M-2.5,0H2.5M-0.7,0A0.7,0.7 0 1,0 0.7,0A0.7,0.7 0 1,0 -0.7,0Z","M-2.5,0H-2.1M-1.7,0H-1.3M-0.9,0H0.9M1.3,0H1.7M2.1,0H2.5M-0.5,-0.5H0.5V0.5H-0.5Z","M-2.5,0H-2.1M-1.7,0H-1.3M-0.9,0H0.9M1.3,0H1.7M2.1,0H2.5M-0.45,-0.55L0.6,0L-0.45,0.55Z","M-2.5,0H-2.1M-1.7,0H-1.3M-0.9,0H0.9M1.3,0H1.7M2.1,0H2.5M-0.5,0A0.5,0.5 0 1,0 0.5,0A0.5,0.5 0 1,0 -0.5,0Z"]}, "legend": {"values": ["CG-MMSE:SIR=0dB","LMS-MMSE:SIR=0dB","RLS-MMSE:no NBI","CG-MMSE:no NBI","LMS-MMSE:no NBI"], "title": "(d) CM4 (NLOS: τᵣₘₛ=25ns)", "legendX": -57, "legendY": 226}}}}
 ]
}
]
}
